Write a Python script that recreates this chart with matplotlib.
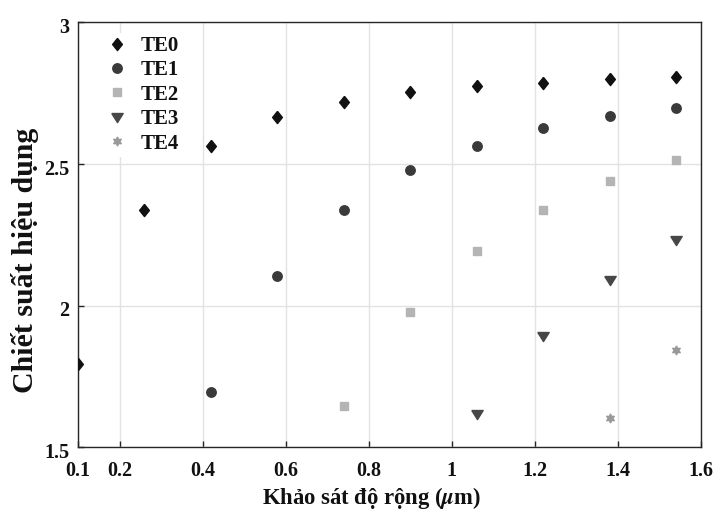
import matplotlib
matplotlib.use("Agg")
import matplotlib.pyplot as plt
import matplotlib.transforms as mtransforms

# ---- data ----
widths = [0.10, 0.26, 0.42, 0.58, 0.74, 0.90, 1.06, 1.22, 1.38, 1.54]
te0 = [1.792, 2.339, 2.562, 2.665, 2.720, 2.755, 2.776, 2.787, 2.800, 2.806]
te1_x = [0.42, 0.58, 0.74, 0.90, 1.06, 1.22, 1.38, 1.54]
te1 = [1.694, 2.104, 2.339, 2.478, 2.564, 2.629, 2.671, 2.699]
te2_x = [0.74, 0.90, 1.06, 1.22, 1.38, 1.54]
te2 = [1.646, 1.979, 2.194, 2.339, 2.441, 2.516]
te3_x = [1.06, 1.22, 1.38, 1.54]
te3 = [1.617, 1.893, 2.090, 2.230]
te4_x = [1.38, 1.54]
te4 = [1.603, 1.842]
series_names = ["TE0", "TE1", "TE2", "TE3", "TE4"]
xticks = [0.1, 0.2, 0.4, 0.6, 0.8, 1.0, 1.2, 1.4, 1.6]
xticklabels = ["0.1", "0.2", "0.4", "0.6", "0.8", "1", "1.2", "1.4", "1.6"]
yticks = [1.5, 2.0, 2.5, 3.0]
yticklabels = ["1.5", "2", "2.5", "3"]

plt.rcParams['font.family'] = ['Liberation Serif', 'DejaVu Serif']
plt.rcParams['font.weight'] = 'bold'
plt.rcParams['mathtext.fontset'] = 'stix'

fig = plt.figure(figsize=(7.16, 5.11), dpi=100)
ax = fig.add_axes([0.109, 0.125, 0.870, 0.831])

diamond = [(0, 1), (0.8, 0), (0, -1), (-0.8, 0), (0, 1)]
tri = [(-1, 0.7), (1, 0.7), (0, -0.9), (-1, 0.7)]

ax.plot(widths, te0, linestyle='none', marker=diamond, markersize=8.8,
        color='#111111', label=series_names[0], zorder=3)
ax.plot(te1_x, te1, linestyle='none', marker='o', markersize=6.8,
        color='#3a3a3a', label=series_names[1], zorder=3)
ax.plot(te2_x, te2, linestyle='none', marker='s', markersize=5.2,
        color='#b4b4b4', label=series_names[2], zorder=3)
ax.plot(te3_x, te3, linestyle='none', marker=tri, markersize=8.2,
        color='#474747', label=series_names[3], zorder=3)
ax.plot(te4_x, te4, linestyle='none', marker=(6, 1, 0), markersize=6.5,
        color='#999999', label=series_names[4], zorder=3)

ax.set_xlim(0.1, 1.6)
ax.set_ylim(1.5, 3.0)
ax.set_xticks(xticks)
ax.set_xticklabels(xticklabels)
ax.set_yticks(yticks)
ax.set_yticklabels(yticklabels)
ax.tick_params(direction='in', length=4, width=1, colors='#262626',
               labelsize=14.5, labelcolor='#111111')
ax.tick_params(axis='x', pad=10)
ax.tick_params(axis='y', pad=6)
off = mtransforms.ScaledTranslation(0, -3 / 100, fig.dpi_scale_trans)
for lab in ax.get_yticklabels():
    lab.set_transform(lab.get_transform() + off)
for lab in ax.get_xticklabels() + ax.get_yticklabels():
    lab.set_fontweight('bold')
ax.grid(True, color='#e2e2e2', linewidth=1)
ax.set_axisbelow(True)
for s in ax.spines.values():
    s.set_color('#262626')
    s.set_linewidth(1)

ax.set_xlabel(r'Khảo sát độ rộng ($\mathit{\mu}$m)', fontsize=16.3,
              fontweight='bold', color='#111111')
ax.xaxis.set_label_coords(0.471, -0.089)
ax.set_ylabel('Chiết suất hiệu dụng', fontsize=21.5, fontweight='bold',
              color='#111111')
ax.yaxis.set_label_coords(-0.062, 0.44)

leg = ax.legend(loc='upper left', frameon=True, fontsize=15,
                handletextpad=0.5, labelspacing=0.21, borderpad=0.15,
                bbox_to_anchor=(0.0215, 1.0), handlelength=1.2)
leg.get_frame().set_edgecolor('none')
leg.get_frame().set_facecolor('white')
leg.get_frame().set_alpha(1)
for t in leg.get_texts():
    t.set_fontweight('bold')
    t.set_color('#111111')

fig.savefig('out.png', dpi=100)
